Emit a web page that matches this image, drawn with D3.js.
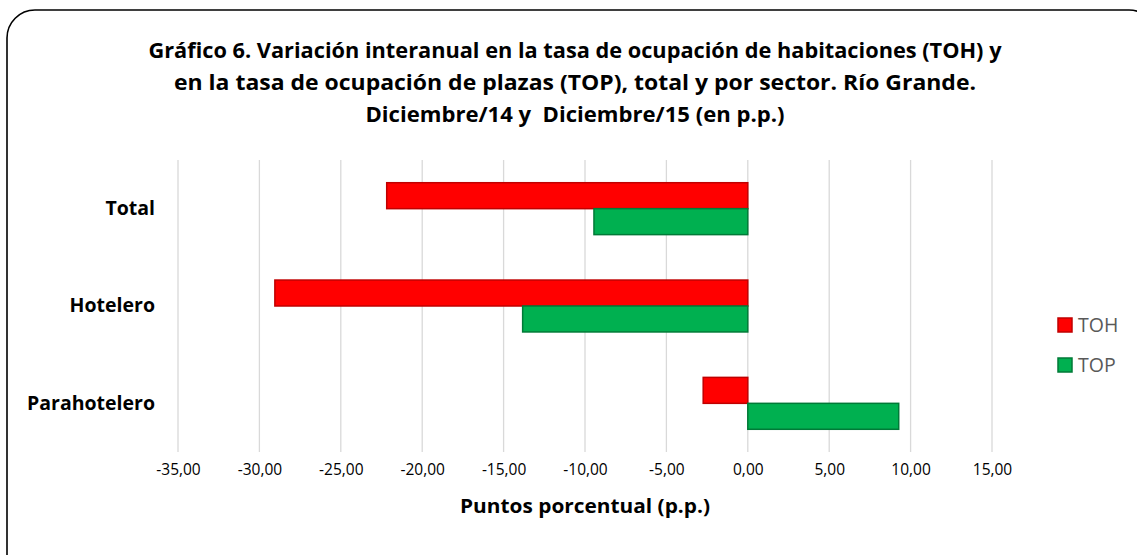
<!DOCTYPE html>
<html>
<head>
<meta charset="utf-8">
<script src="https://cdn.jsdelivr.net/npm/d3@7"></script>
<style>
  body { margin: 0; background: #fff; }
  svg { display: block; }
</style>
</head>
<body>
<div id="chart"></div>
<script>
// data
const categories = ["Total", "Hotelero", "Parahotelero"];
const seriesNames = ["TOH", "TOP"];
const tohValues = [-22.18, -29.05, -2.74];
const topValues = [-9.45, -13.83, 9.27];
const xTicks = [-35, -30, -25, -20, -15, -10, -5, 0, 5, 10, 15];
const titleLines = [
  "Gráfico 6. Variación interanual en la tasa de ocupación de habitaciones (TOH) y",
  "en la tasa de ocupación de plazas (TOP), total y por sector. Río Grande.",
  "Diciembre/14 y\u00a0\u00a0Diciembre/15 (en p.p.)"
];
const xTitle = "Puntos porcentual (p.p.)";

const W = 1137, H = 555;
const plot = { left: 178, right: 992, top: 160, bottom: 452 };
const fills = { TOH: "#ff0000", TOP: "#00b050" };
const strokes = { TOH: "#c00000", TOP: "#007a37" };
const font = "'Open Sans', 'Noto Sans', sans-serif";

const rows = categories.map((c, i) => ({ cat: c, TOH: tohValues[i], TOP: topValues[i] }));

const svg = d3.select("#chart").append("svg")
  .attr("width", W)
  .attr("height", H);

// rounded frame, runs off the right and bottom like the original
svg.append("rect")
  .attr("x", 7).attr("y", 10)
  .attr("width", 1150).attr("height", 575)
  .attr("rx", 28).attr("ry", 28)
  .attr("fill", "#fff")
  .attr("stroke", "#000")
  .attr("stroke-width", 1.6);

// title, squeezed to the widths of the original lines
const titleWidths = [853, 802, 419];
const title = svg.append("g")
  .attr("font-family", font)
  .attr("font-weight", "bold")
  .attr("font-size", 20.5)
  .attr("fill", "#000")
  .attr("text-anchor", "middle");
title.selectAll("text")
  .data(titleLines)
  .enter()
  .append("text")
  .attr("x", 575)
  .attr("y", (d, i) => 58 + i * 32)
  .attr("textLength", (d, i) => titleWidths[i])
  .attr("lengthAdjust", "spacingAndGlyphs")
  .text(d => d);

// scales
const x = d3.scaleLinear()
  .domain([xTicks[0], xTicks[xTicks.length - 1]])
  .range([plot.left, plot.right]);

const y0 = d3.scaleBand()
  .domain(categories)
  .range([plot.top, plot.bottom]);

const y1 = d3.scaleBand()
  .domain(seriesNames)
  .range([0, y0.bandwidth()])
  .paddingInner(0)
  .paddingOuter(0.875);

// gridlines
svg.append("g")
  .selectAll("line")
  .data(xTicks)
  .enter()
  .append("line")
  .attr("x1", d => x(d)).attr("x2", d => x(d))
  .attr("y1", plot.top).attr("y2", plot.bottom)
  .attr("stroke", "#d9d9d9")
  .attr("stroke-width", 1.3);

// x axis labels
const xAxis = svg.append("g")
  .attr("transform", "translate(0," + (plot.bottom + 4) + ")")
  .call(d3.axisBottom(x)
    .tickValues(xTicks)
    .tickSize(0)
    .tickPadding(8)
    .tickFormat(d => d3.format(".2f")(d).replace(".", ",").replace("−", "-")));
xAxis.select(".domain").remove();
xAxis.selectAll("text")
  .attr("font-family", font)
  .attr("font-size", 15.5)
  .attr("fill", "#000");

svg.append("text")
  .attr("x", (plot.left + plot.right) / 2)
  .attr("y", 513)
  .attr("text-anchor", "middle")
  .attr("font-family", font)
  .attr("font-weight", "bold")
  .attr("font-size", 19)
  .attr("textLength", 250)
  .attr("lengthAdjust", "spacingAndGlyphs")
  .text(xTitle);

// category labels
const yAxis = svg.append("g")
  .attr("transform", "translate(" + (plot.left - 13) + ",0)")
  .call(d3.axisLeft(y0).tickSize(0).tickPadding(10));
yAxis.select(".domain").remove();
yAxis.selectAll("text")
  .attr("font-family", font)
  .attr("font-weight", "bold")
  .attr("font-size", 19.5)
  .attr("fill", "#000");

// bars
const groups = svg.append("g")
  .selectAll("g")
  .data(rows)
  .enter()
  .append("g")
  .attr("transform", d => "translate(0," + y0(d.cat) + ")");

groups.selectAll("rect")
  .data(d => seriesNames.map(s => ({ s: s, v: d[s] })))
  .enter()
  .append("rect")
  .attr("x", d => x(Math.min(0, d.v)))
  .attr("y", d => y1(d.s))
  .attr("width", d => Math.abs(x(d.v) - x(0)))
  .attr("height", y1.bandwidth())
  .attr("fill", d => fills[d.s])
  .attr("stroke", d => strokes[d.s])
  .attr("stroke-width", 1.5);

// legend
const legend = svg.append("g")
  .attr("transform", "translate(1058,318)");
const item = legend.selectAll("g")
  .data(seriesNames)
  .enter()
  .append("g")
  .attr("transform", (d, i) => "translate(0," + i * 40 + ")");
item.append("rect")
  .attr("width", 14).attr("height", 14)
  .attr("fill", d => fills[d])
  .attr("stroke", d => strokes[d])
  .attr("stroke-width", 1.5);
item.append("text")
  .attr("x", 20)
  .attr("y", 7)
  .attr("dy", "0.36em")
  .attr("font-family", font)
  .attr("font-size", 19.5)
  .attr("fill", "#595959")
  .text(d => d);
</script>
</body>
</html>
